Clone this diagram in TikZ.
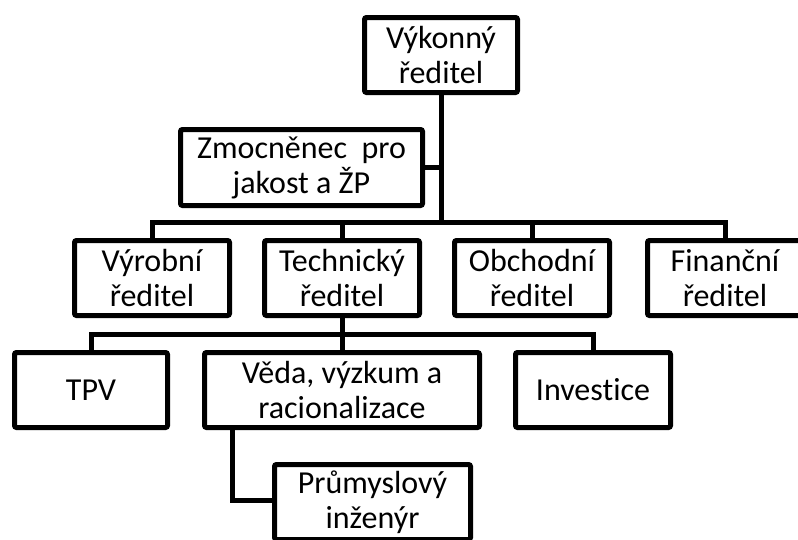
\documentclass[tikz,border=0pt]{standalone}
\usepackage{fontspec}
\setmainfont{Carlito}[Ligatures=NoCommon]
\begin{document}
\begin{tikzpicture}[x=1pt,y=1pt,
  box/.style={draw=black, line width=5pt, rounded corners=2pt, fill=white,
    align=center, inner sep=0pt, minimum height=75pt,
    font=\fontsize{32}{35}\selectfont},
  conn/.style={draw=black, line width=5pt, line join=miter}]
\useasboundingbox (0,0) rectangle (798,-539);
\clip (0,0) rectangle (798,-539);
% nodes
\node[box, minimum width=153pt] (top) at (441,-55) {Výkonný\\ředitel};
\node[box, minimum width=242pt, minimum height=76pt] (zmo) at (301.5,-167.5) {Zmocněnec~ pro\\jakost a ŽP};
\node[box, minimum width=155pt] (vyr) at (152,-278) {Výrobní\\ředitel};
\node[box, minimum width=155pt] (tech) at (342,-278) {Technický\\ředitel};
\node[box, minimum width=155pt] (obch) at (532,-278) {Obchodní\\ředitel};
\node[box, minimum width=155pt] (fin) at (725,-278) {Finanční\\ředitel};
\node[box, minimum width=153pt] (tpv) at (91,-390) {TPV};
\node[box, minimum width=275pt] (veda) at (342,-390) {Věda, výzkum a\\racionalizace};
\node[box, minimum width=155pt] (inv) at (593,-390) {Investice};
\node[box, minimum width=196pt] (pru) at (372.5,-502) {Průmyslový\\inženýr};
% junction coordinates
\coordinate (b1) at (0,-222);
\coordinate (b2) at (0,-334);
\coordinate (b3) at (0,-500);
% connectors
\draw[conn] (top.south) -- (top.south |- b1);
\draw[conn] (zmo.east) -- (zmo.east -| top.south);
\draw[conn] (vyr.north) -- (vyr.north |- b1) -- (fin.north |- b1) -- (fin.north);
\draw[conn] (tech.north) -- (tech.north |- b1);
\draw[conn] (obch.north) -- (obch.north |- b1);
\draw[conn] (tech.south) -- (tech.south |- b2);
\draw[conn] (tpv.north) -- (tpv.north |- b2) -- (inv.north |- b2) -- (inv.north);
\draw[conn] (veda.north) -- (veda.north |- b2);
\coordinate (vd) at ([xshift=-110pt]veda.south);
\draw[conn] (vd) -- (vd |- b3) -- (pru.west |- b3);
\end{tikzpicture}
\end{document}
